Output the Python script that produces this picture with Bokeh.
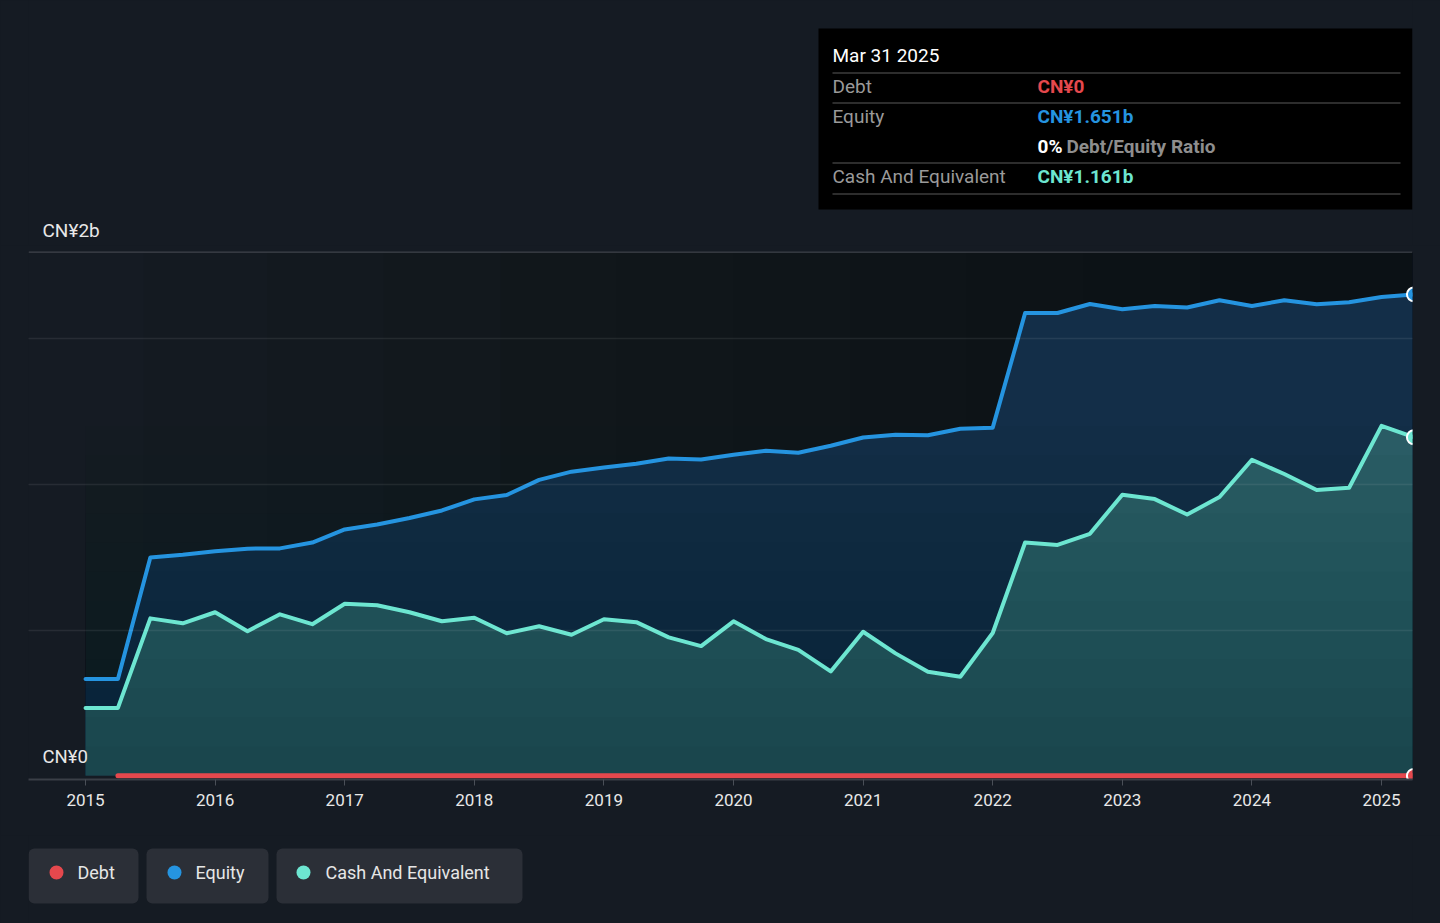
from bokeh.plotting import figure
from bokeh.models import Range1d, FixedTicker, Span, BoxAnnotation, Label
from bokeh.layouts import column
from bokeh.core.properties import value
from bokeh.embed import file_html
from bokeh.resources import INLINE

# ---------------- data (CN¥ billions, quarter ends as decimal years) ----------------
quarters = [2015.0, 2015.25, 2015.5, 2015.75,
            2016.0, 2016.25, 2016.5, 2016.75,
            2017.0, 2017.25, 2017.5, 2017.75,
            2018.0, 2018.25, 2018.5, 2018.75,
            2019.0, 2019.25, 2019.5, 2019.75,
            2020.0, 2020.25, 2020.5, 2020.75,
            2021.0, 2021.25, 2021.5, 2021.75,
            2022.0, 2022.25, 2022.5, 2022.75,
            2023.0, 2023.25, 2023.5, 2023.75,
            2024.0, 2024.25, 2024.5, 2024.75,
            2025.0, 2025.25]

equity = [0.332, 0.332, 0.749, 0.758,
          0.770, 0.779, 0.780, 0.800,
          0.845, 0.862, 0.884, 0.910,
          0.948, 0.963, 1.015, 1.043,
          1.057, 1.070, 1.088, 1.085,
          1.101, 1.115, 1.108, 1.132,
          1.160, 1.170, 1.168, 1.190,
          1.194, 1.587, 1.587, 1.618,
          1.600, 1.611, 1.606, 1.631,
          1.611, 1.631, 1.617, 1.624,
          1.642, 1.651]

cash = [0.233, 0.233, 0.540, 0.523,
        0.561, 0.496, 0.554, 0.520,
        0.590, 0.585, 0.561, 0.530,
        0.542, 0.489, 0.513, 0.484,
        0.537, 0.527, 0.475, 0.445,
        0.530, 0.469, 0.432, 0.358,
        0.494, 0.420, 0.357, 0.340,
        0.490, 0.800, 0.792, 0.830,
        0.964, 0.949, 0.896, 0.956,
        1.084, 1.035, 0.980, 0.988,
        1.200, 1.161]

debt_quarters = [2015.25, 2015.5, 2015.75,
                 2016.0, 2016.25, 2016.5, 2016.75,
                 2017.0, 2017.25, 2017.5, 2017.75,
                 2018.0, 2018.25, 2018.5, 2018.75,
                 2019.0, 2019.25, 2019.5, 2019.75,
                 2020.0, 2020.25, 2020.5, 2020.75,
                 2021.0, 2021.25, 2021.5, 2021.75,
                 2022.0, 2022.25, 2022.5, 2022.75,
                 2023.0, 2023.25, 2023.5, 2023.75,
                 2024.0, 2024.25, 2024.5, 2024.75,
                 2025.0, 2025.25]
debt = [0.0, 0.0, 0.0,
        0.0, 0.0, 0.0, 0.0,
        0.0, 0.0, 0.0, 0.0,
        0.0, 0.0, 0.0, 0.0,
        0.0, 0.0, 0.0, 0.0,
        0.0, 0.0, 0.0, 0.0,
        0.0, 0.0, 0.0, 0.0,
        0.0, 0.0, 0.0, 0.0,
        0.0, 0.0, 0.0, 0.0,
        0.0, 0.0, 0.0, 0.0,
        0.0, 0.0]

year_ticks = [2015, 2016, 2017, 2018, 2019, 2020, 2021, 2022, 2023, 2024, 2025]
grid_values = [0.5, 1.0, 1.5]
top_line_value = 1.797
y_label_bottom = "CN¥0"
y_label_top = "CN¥2b"
tooltip_date = "Mar 31 2025"
series_names = ["Debt", "Equity", "Cash And Equivalent"]

# ---------------- style ----------------
FONT = value("Roboto")
BG = "#151b23"
RED = "#e5484d"
BLUE = "#2594e0"
TEAL = "#6de6d1"
EQ_FILL = "#132e48"
CASH_FILL = "#2c5e68"
TXT = "#e8e8e8"
GREY = "#9a9a9a"

# the plot frame spans page x 28..1412; the strips above/below share that frame
STRIP_X = Range1d(28, 1412)

# ---------------- top strip: tooltip box + top y label ----------------
top = figure(width=1440, height=245, x_range=STRIP_X, y_range=Range1d(245, 0),
             output_backend="svg", toolbar_location=None,
             x_axis_location=None, y_axis_location=None,
             min_border_left=28, min_border_right=28, min_border_top=0, min_border_bottom=0,
             background_fill_color=BG, border_fill_color=BG, outline_line_color=None)
top.grid.visible = False

top.quad(left=[818], right=[1412], top=[28], bottom=[209], fill_color="#000000", line_color=None)
top.segment(x0=[832, 832, 832, 832], x1=[1400, 1400, 1400, 1400],
            y0=[72.5, 102.5, 162.5, 193.5], y1=[72.5, 102.5, 162.5, 193.5],
            line_color="#3d3d3d", line_width=1.5)
top.text(x=[832], y=[55], text=[tooltip_date], text_font=FONT, text_font_size=value("19px"),
         text_color="#ffffff", text_baseline="middle", text_align="left")
top.text(x=[832, 832, 832], y=[86, 116, 176], text=["Debt", "Equity", "Cash And Equivalent"],
         text_font=FONT, text_font_size=value("19px"), text_color=GREY,
         text_baseline="middle", text_align="left")
debt_txt = "CN¥0" if debt[-1] == 0 else f"CN¥{debt[-1]:.3f}b"
eq_txt = f"CN¥{equity[-1]:.3f}b"
cash_txt = f"CN¥{cash[-1]:.3f}b"
ratio_txt = f"{round(100 * debt[-1] / equity[-1])}%"
top.text(x=[1037, 1037, 1037, 1037], y=[86, 116, 146, 176],
         text=[debt_txt, eq_txt, ratio_txt, cash_txt],
         text_color=[RED, BLUE, "#ffffff", TEAL],
         text_font=FONT, text_font_size=value("19px"), text_font_style="bold",
         text_baseline="middle", text_align="left")
top.text(x=[1066], y=[146], text=["Debt/Equity Ratio"], text_color="#8e8e8e",
         text_font=FONT, text_font_size=value("19px"), text_font_style="bold",
         text_baseline="middle", text_align="left")
top.text(x=[42], y=[230], text=[y_label_top], text_color=TXT,
         text_font=FONT, text_font_size=value("19px"),
         text_baseline="middle", text_align="left")

# ---------------- main chart ----------------
p = figure(width=1440, height=590,
           x_range=Range1d(2014.560, 2025.239), y_range=Range1d(-0.0125, 1.798),
           output_backend="svg", toolbar_location=None,
           min_border_left=28, min_border_right=28, min_border_top=6, min_border_bottom=56,
           background_fill_color=BG, border_fill_color=BG, outline_line_color=None)

# subtle left-to-right darkening of the plot background
for start in [2015.45, 2016.4, 2017.3, 2018.2, 2019.1, 2020.0, 2020.9, 2021.8, 2022.7, 2023.6]:
    p.add_layout(BoxAnnotation(left=start, fill_color="#000000", fill_alpha=0.036,
                               line_color=None, level="underlay"))

p.xgrid.visible = False
p.ygrid.ticker = FixedTicker(ticks=grid_values)
p.ygrid.grid_line_color = "#ffffff"
p.ygrid.grid_line_alpha = 0.08
p.ygrid.grid_line_width = 1.5
p.ygrid.level = "overlay"
p.yaxis.visible = False
p.add_layout(Span(location=top_line_value, dimension="width", line_color="#40454d", line_width=2))

p.xaxis.ticker = FixedTicker(ticks=year_ticks)
p.xaxis.minor_tick_line_color = None
p.xaxis.major_tick_in = 0
p.xaxis.major_tick_out = 6
p.xaxis.major_tick_line_color = "#4a4f57"
p.xaxis.axis_line_color = "#3a3f47"
p.xaxis.axis_line_width = 2
p.xaxis.major_label_standoff = 8
p.xaxis.major_label_text_color = TXT
p.xaxis.major_label_text_font = "Roboto"
p.xaxis.major_label_text_font_size = "17px"

p.varea(x=quarters, y1=0, y2=equity, fill_color=EQ_FILL)
p.varea(x=quarters, y1=0, y2=cash, fill_color=CASH_FILL)
# vertical shading of the filled areas (darker towards the baseline)
p.quad(left=quarters[0], right=quarters[-1], bottom=0,
       top=[1.2, 1.1, 1.0, 0.9, 0.8, 0.7, 0.6, 0.5, 0.4, 0.3, 0.2, 0.1],
       fill_color="#0a1420", fill_alpha=0.032, line_color=None)

p.line(x=quarters, y=equity, line_color=BLUE, line_width=4, line_join="round", line_cap="round")
p.line(x=quarters, y=cash, line_color=TEAL, line_width=4, line_join="round", line_cap="round")
p.line(x=debt_quarters, y=debt, line_color=RED, line_width=5, line_cap="round")

p.scatter(x=[quarters[-1]], y=[equity[-1]], size=14, fill_color=BLUE, line_color="#ffffff", line_width=2)
p.scatter(x=[quarters[-1]], y=[cash[-1]], size=14, fill_color=TEAL, line_color="#ffffff", line_width=2)
p.scatter(x=[debt_quarters[-1]], y=[debt[-1]], size=14, fill_color=RED, line_color="#ffffff", line_width=2)

p.add_layout(Label(x=14, x_units="screen", y=23, y_units="screen", text=y_label_bottom,
                   text_font="Roboto", text_font_size="18.5px", text_color=TXT,
                   text_baseline="middle", text_align="left"))

# ---------------- legend strip ----------------
leg = figure(width=1440, height=88, x_range=STRIP_X, y_range=Range1d(923, 835),
             output_backend="svg", toolbar_location=None,
             x_axis_location=None, y_axis_location=None,
             min_border_left=28, min_border_right=28, min_border_top=0, min_border_bottom=0,
             background_fill_color=BG, border_fill_color=BG, outline_line_color=None)
leg.grid.visible = False
for l, r in [(28, 138), (146, 268), (276, 522)]:
    leg.add_layout(BoxAnnotation(left=l, right=r, top=848, bottom=903, fill_color="#2b2f37",
                                 fill_alpha=1.0, line_color=None, border_radius=6, level="underlay"))
leg.scatter(x=[56, 174, 303], y=[872, 872, 872], size=14, fill_color=[RED, BLUE, TEAL], line_color=None)
leg.text(x=[77, 195, 325], y=[872, 872, 872], text=series_names, text_color="#e6e6e6",
         text_font=FONT, text_font_size=value("18px"), text_baseline="middle", text_align="left")

layout = column(top, p, leg)
html = file_html(layout, INLINE, title="Debt to Equity History")
html = html.replace("</head>",
                    "<style>html,body{margin:0;padding:0;background:#151b23;overflow:hidden;}</style></head>", 1)
open("out.html", "w").write(html)
